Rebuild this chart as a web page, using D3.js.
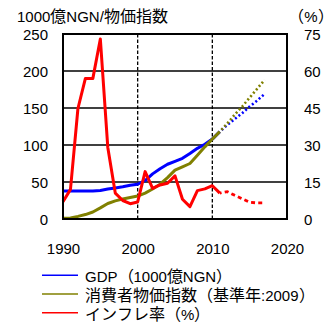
<!DOCTYPE html>
<html>
<head>
<meta charset="utf-8">
<script src="https://cdn.jsdelivr.net/npm/d3@7"></script>
<style>
  /* Japanese glyphs drawn a little larger than the Latin ones */
  @font-face {
    font-family: "JPText";
    src: local("Noto Sans CJK JP Regular"), local("NotoSansCJKjp-Regular"), local("Noto Sans CJK JP");
    size-adjust: 107%;
    unicode-range: U+3000-30FF, U+3400-9FFF, U+FF00-FFEF;
  }
  html, body { margin: 0; padding: 0; background: #fff; }
  svg { display: block; }
  text { font-family: "Liberation Sans", "JPText", "Noto Sans CJK JP", sans-serif; fill: #000; font-size: 15px; }
</style>
</head>
<body>
<svg id="chart" width="333" height="327"></svg>
<script>
// Nigeria: nominal GDP (1000億NGN), CPI (2009 = 100) and inflation (%)
const years = d3.range(1990, 2012);
const gdp = [38, 38, 38, 38, 38, 38.5, 40.5, 42, 43.5, 45.5, 47, 52, 61, 68, 74, 78, 82, 88.5, 95.5, 101, 108, 118];
const cpi = [1, 1.5, 3.5, 6, 9.5, 15, 21, 24.5, 27, 29, 31, 35, 40.5, 47, 56, 66, 70.5, 75, 86, 97.5, 108, 118];
const inflation = [7.0, 12, 44.8, 57, 57, 73, 29, 10.5, 7.5, 6.2, 6.9, 19.2, 12.4, 13.8, 14.5, 17.5, 8, 5, 11.5, 12.2, 13.5, 10.5];

// Projections 2011-2017
const projYears = d3.range(2011, 2018);
const gdpProj = [118, 127, 135, 143, 152, 160, 169];
const cpiProj = [118, 129, 141, 152, 164, 176, 188];
const inflationProj = [10.5, 11.1, 9.6, 8.2, 6.8, 6.5, 6.5];

const xTicks = [1990, 2000, 2010, 2020];
const yTicks = [0, 50, 100, 150, 200, 250];
const yRTicks = [0, 15, 30, 45, 60, 75];

const leftTitle = "1000億NGN/物価指数";
const rightTitle = "（%）";
const legendItems = [
  { label: "GDP（1000億NGN）", color: "#0000ff" },
  { label: "消費者物価指数（基準年:2009）", color: "#808000" },
  { label: "インフレ率（%）", color: "#ff0000" }
];

const svg = d3.select("#chart");
const box = { left: 63, right: 287, top: 34, bottom: 219 };

const x = d3.scaleLinear().domain([1990, 2020]).range([box.left, box.right]);
const y = d3.scaleLinear().domain([0, 250]).range([box.bottom, box.top]);
const yR = d3.scaleLinear().domain([0, 75]).range([box.bottom, box.top]);

// horizontal gridlines
svg.append("g").selectAll("line")
  .data(yTicks.slice(1, -1))
  .join("line")
  .attr("x1", box.left).attr("x2", box.right)
  .attr("y1", d => y(d)).attr("y2", d => y(d))
  .attr("stroke", "#000").attr("stroke-width", 1.6);

// dashed vertical gridlines
svg.append("g").selectAll("line")
  .data(xTicks.slice(1, -1))
  .join("line")
  .attr("x1", d => x(d)).attr("x2", d => x(d))
  .attr("y1", box.top).attr("y2", box.bottom)
  .attr("stroke", "#000").attr("stroke-width", 1.3)
  .attr("stroke-dasharray", "3.5,2");

// left axis
const axL = svg.append("g")
  .attr("transform", `translate(${box.left},0)`)
  .call(d3.axisLeft(y).tickValues(yTicks).tickSize(0).tickPadding(15));
axL.select(".domain").remove();

// right axis
const axR = svg.append("g")
  .attr("transform", `translate(${box.right},0)`)
  .call(d3.axisRight(yR).tickValues(yRTicks).tickSize(0).tickPadding(17));
axR.select(".domain").remove();

// bottom axis
const axB = svg.append("g")
  .attr("transform", `translate(0,${box.bottom})`)
  .call(d3.axisBottom(x).tickValues(xTicks).tickFormat(d3.format("d")).tickSize(0).tickPadding(24));
axB.select(".domain").remove();

svg.selectAll("g[font-size]").attr("font-size", null).attr("font-family", null);
axL.selectAll("text").attr("dy", "0.38em");
axR.selectAll("text").attr("dy", "0.38em");
axB.selectAll("text").attr("dy", "0.71em");
svg.selectAll(".tick text").attr("fill", "#000");

// axis titles
svg.append("text").attr("x", 17).attr("y", 22).text(leftTitle);
svg.append("text").attr("x", 311).attr("y", 22)
  .attr("text-anchor", "middle").text(rightTitle);

const lineL = d3.line().x(d => x(d[0])).y(d => y(d[1]));
const lineR = d3.line().x(d => x(d[0])).y(d => yR(d[1]));
const zip = (a, b) => a.map((v, i) => [v, b[i]]);

// series
svg.append("path").datum(zip(years, gdp)).attr("d", lineL)
  .attr("fill", "none").attr("stroke", "#0000ff").attr("stroke-width", 3).attr("stroke-linejoin", "round");
svg.append("path").datum(zip(projYears, gdpProj)).attr("d", lineL)
  .attr("fill", "none").attr("stroke", "#0000ff").attr("stroke-width", 2.6)
  .attr("stroke-dasharray", "2,2.4").attr("stroke-dashoffset", -2.4);

svg.append("path").datum(zip(years, cpi)).attr("d", lineL)
  .attr("fill", "none").attr("stroke", "#808000").attr("stroke-width", 3).attr("stroke-linejoin", "round");
svg.append("path").datum(zip(projYears, cpiProj)).attr("d", lineL)
  .attr("fill", "none").attr("stroke", "#808000").attr("stroke-width", 2.6)
  .attr("stroke-dasharray", "2,2.4").attr("stroke-dashoffset", -2.4);

svg.append("path").datum(zip(years, inflation)).attr("d", lineR)
  .attr("fill", "none").attr("stroke", "#ff0000").attr("stroke-width", 3).attr("stroke-linejoin", "round");
svg.append("path").datum(zip(projYears, inflationProj)).attr("d", lineR)
  .attr("fill", "none").attr("stroke", "#ff0000").attr("stroke-width", 2.8)
  .attr("stroke-dasharray", "4,3.2").attr("stroke-dashoffset", -5);

// plot frame
svg.append("rect").attr("x", box.left).attr("y", box.top)
  .attr("width", box.right - box.left).attr("height", box.bottom - box.top)
  .attr("fill", "none").attr("stroke", "#000").attr("stroke-width", 2);

// legend
const lg = svg.append("g").selectAll("g")
  .data(legendItems)
  .join("g")
  .attr("transform", (d, i) => `translate(0,${275.3 + i * 18.7})`);
lg.append("line").attr("x1", 42).attr("x2", 78)
  .attr("stroke", d => d.color).attr("stroke-width", 1.5);
lg.append("text").attr("x", 85).attr("y", 7).text(d => d.label);
</script>
</body>
</html>
